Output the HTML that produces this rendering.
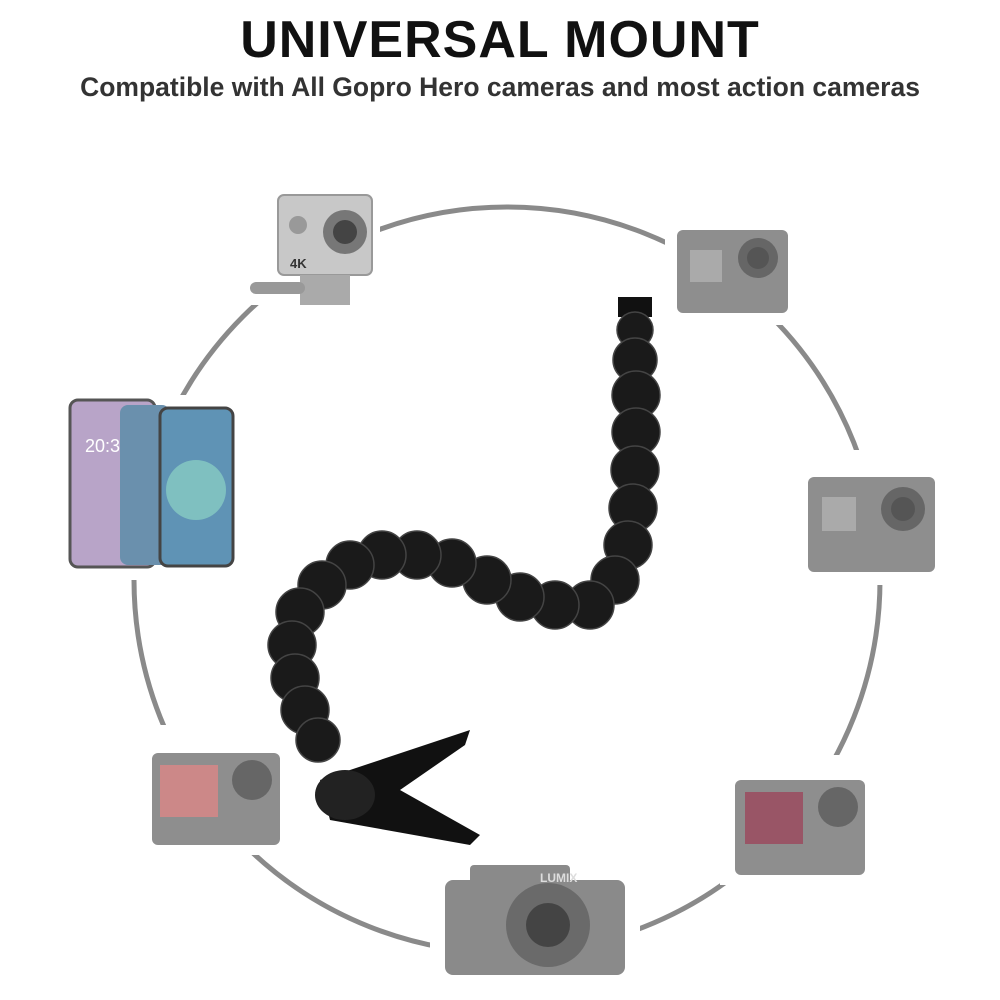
<!DOCTYPE html>
<html><head><meta charset="utf-8"><style>
html,body{margin:0;padding:0;background:#fff}
body{width:1000px;height:1000px;overflow:hidden;position:relative;font-family:"Liberation Sans",sans-serif}
.t{position:absolute;left:0;width:1000px;text-align:center;font-weight:bold;color:#111}
</style></head><body>
<div class="t" style="top:10px;font-size:52px;letter-spacing:1px">UNIVERSAL MOUNT</div>
<div class="t" style="top:72px;font-size:26.5px;color:#333">Compatible with All Gopro Hero cameras and most action cameras</div>
<svg width="1000" height="1000" style="position:absolute;left:0;top:0">
<circle cx="507" cy="580" r="373" fill="none" stroke="#8a8a8a" stroke-width="5"/>
<g fill="#fff">
<rect x="240" y="180" width="140" height="125"/>
<rect x="665" y="215" width="135" height="110"/>
<rect x="50" y="395" width="195" height="185"/>
<rect x="795" y="450" width="155" height="135"/>
<rect x="135" y="725" width="160" height="130"/>
<rect x="720" y="755" width="160" height="130"/>
<rect x="430" y="855" width="210" height="145"/>
</g>
<!-- AKASO -->
<rect x="278" y="195" width="94" height="80" rx="6" fill="#c8c8c8" stroke="#999" stroke-width="2"/>
<circle cx="345" cy="232" r="22" fill="#777"/><circle cx="345" cy="232" r="12" fill="#444"/>
<circle cx="298" cy="225" r="9" fill="#999"/>
<text x="290" y="268" font-size="13" font-weight="bold" fill="#333">4K</text>
<rect x="300" y="275" width="50" height="30" fill="#aaa"/><rect x="250" y="282" width="55" height="12" rx="6" fill="#999"/>
<!-- GoPro TR -->
<rect x="677" y="230" width="111" height="83" rx="6" fill="#8e8e8e"/>
<rect x="690" y="250" width="32" height="32" fill="#aaa"/><circle cx="758" cy="258" r="20" fill="#666"/><circle cx="758" cy="258" r="11" fill="#555"/>
<!-- phones -->
<rect x="70" y="400" width="85" height="167" rx="8" fill="#b8a4c8" stroke="#555" stroke-width="3"/>
<rect x="120" y="405" width="50" height="160" rx="8" fill="#6a90ad"/>
<rect x="160" y="408" width="73" height="158" rx="8" fill="#5f93b5" stroke="#444" stroke-width="3"/>
<circle cx="196" cy="490" r="30" fill="#7fc0c0"/>
<text x="85" y="452" font-size="18" fill="#fff">20:3</text>
<!-- GoPro R -->
<rect x="808" y="477" width="127" height="95" rx="6" fill="#8e8e8e"/>
<rect x="822" y="497" width="34" height="34" fill="#aaa"/><circle cx="903" cy="509" r="22" fill="#666"/><circle cx="903" cy="509" r="12" fill="#555"/>
<!-- GoPro LB -->
<rect x="152" y="753" width="128" height="92" rx="6" fill="#8e8e8e"/>
<rect x="160" y="765" width="58" height="52" fill="#c88"/><circle cx="252" cy="780" r="20" fill="#666"/>
<!-- GoPro RB -->
<rect x="735" y="780" width="130" height="95" rx="6" fill="#8e8e8e"/>
<rect x="745" y="792" width="58" height="52" fill="#956"/><circle cx="838" cy="807" r="20" fill="#666"/>
<!-- Lumix -->
<rect x="445" y="880" width="180" height="95" rx="8" fill="#8a8a8a"/>
<rect x="470" y="865" width="100" height="20" rx="4" fill="#8a8a8a"/>
<circle cx="548" cy="925" r="42" fill="#6a6a6a"/><circle cx="548" cy="925" r="22" fill="#444"/>
<text x="540" y="882" font-size="12" font-weight="bold" fill="#ddd">LUMIX</text>
<!-- gooseneck -->
<rect x="618" y="297" width="34" height="20" fill="#111"/>
<g fill="#1a1a1a" stroke="#444" stroke-width="1.5">
<circle cx="635" cy="330" r="18"/><circle cx="635" cy="360" r="22"/><circle cx="636" cy="395" r="24"/><circle cx="636" cy="432" r="24"/><circle cx="635" cy="470" r="24"/><circle cx="633" cy="508" r="24"/><circle cx="628" cy="545" r="24"/><circle cx="615" cy="580" r="24"/><circle cx="590" cy="605" r="24"/><circle cx="555" cy="605" r="24"/><circle cx="520" cy="597" r="24"/><circle cx="487" cy="580" r="24"/><circle cx="452" cy="563" r="24"/><circle cx="417" cy="555" r="24"/><circle cx="382" cy="555" r="24"/><circle cx="350" cy="565" r="24"/><circle cx="322" cy="585" r="24"/><circle cx="300" cy="612" r="24"/><circle cx="292" cy="645" r="24"/><circle cx="295" cy="678" r="24"/><circle cx="305" cy="710" r="24"/><circle cx="318" cy="740" r="22"/>
</g>
<!-- clamp -->
<polygon points="320,780 470,730 465,745 400,790 480,835 470,845 330,820" fill="#111"/>
<ellipse cx="345" cy="795" rx="30" ry="25" fill="#222"/>
</svg>
</body></html>
